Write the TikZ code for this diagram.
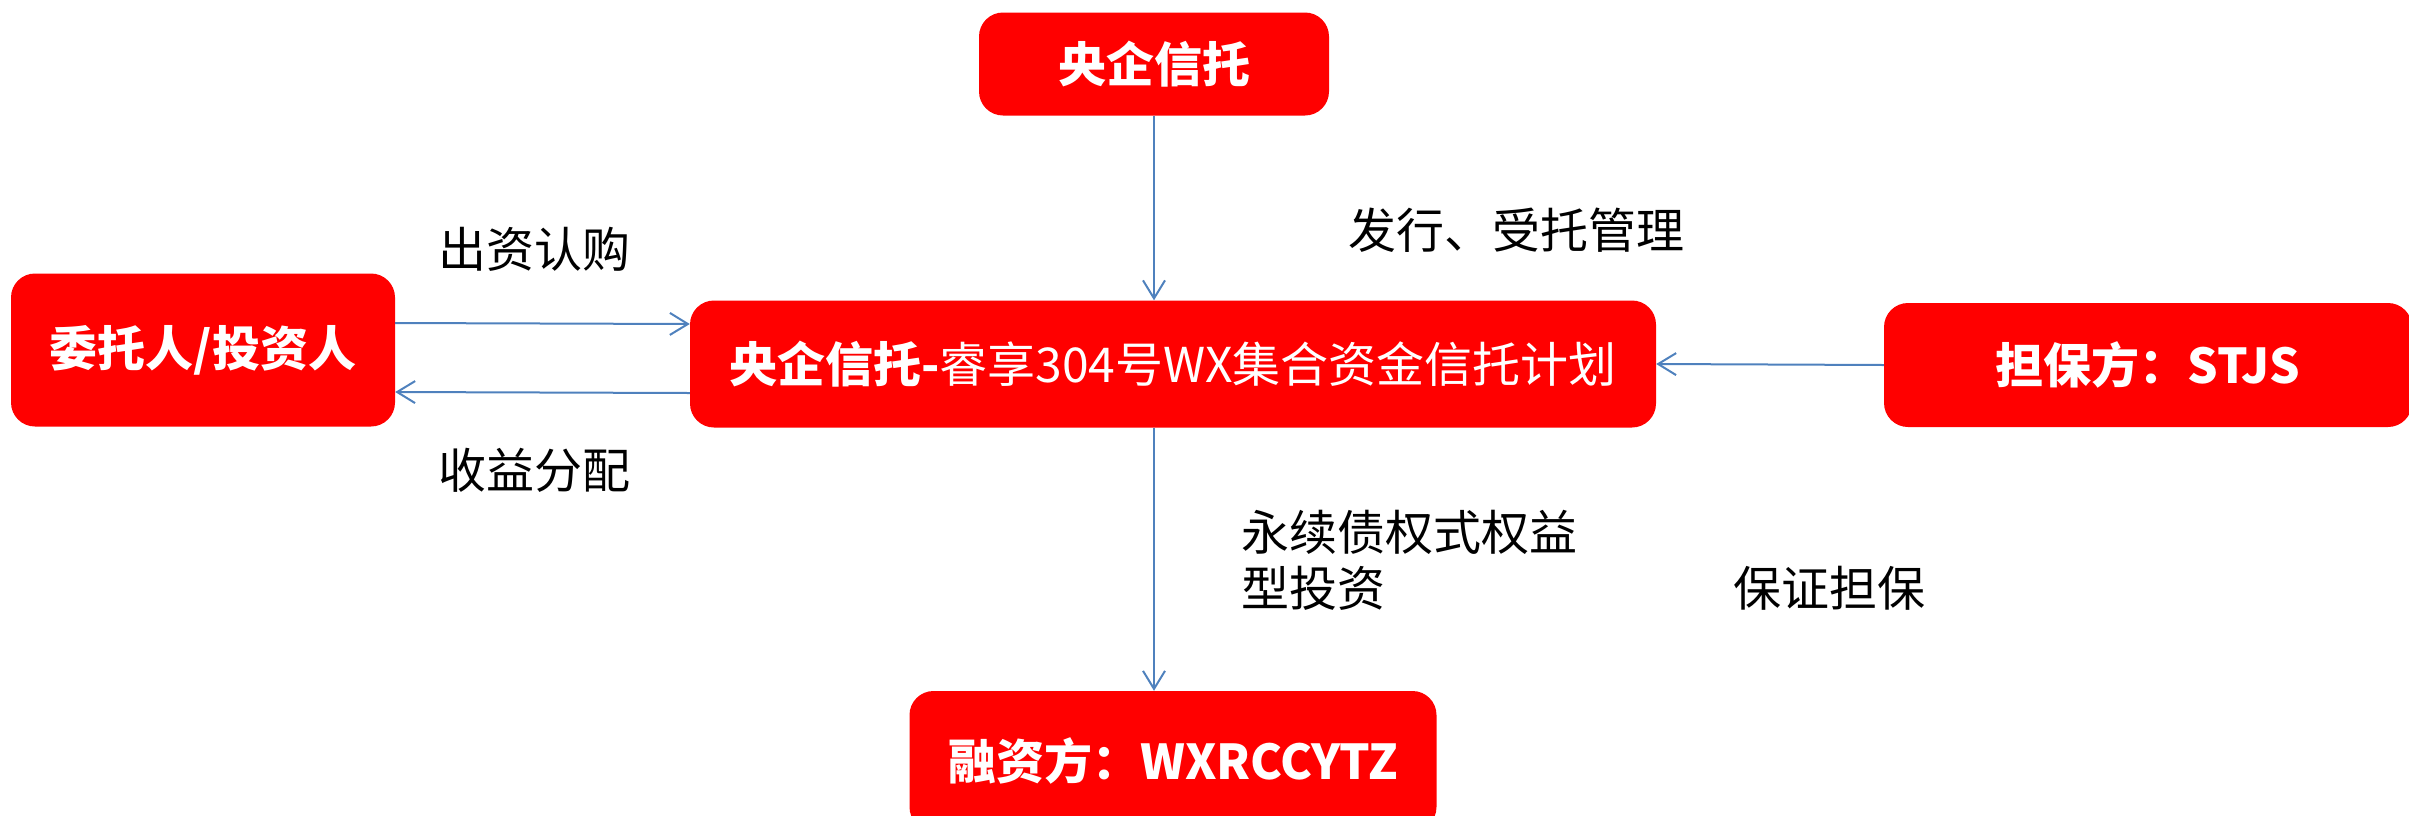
\documentclass[tikz,border=0pt]{standalone}
\usepackage{fontspec}
\newfontfamily\cjk{Noto Sans CJK SC}
\usetikzlibrary{arrows.meta}
\definecolor{flowblue}{RGB}{79,129,189}

\begin{document}
\begin{tikzpicture}[x=1pt,y=1pt,
  box/.style={fill=red,rounded corners=24pt,text=white,inner sep=0pt,
    font=\cjk\bfseries\fontsize{48}{56}\selectfont},
  note/.style={inner sep=0pt,font=\cjk\fontsize{48}{56}\selectfont},
  flow/.style={draw=flowblue,line width=2pt,-{Straight Barb[length=18pt,width=22pt,line width=2pt]}}]
  \useasboundingbox (0,0) rectangle (2409,-815);
  \clip (0,0) rectangle (2409,-815);
  \node[box,minimum width=350pt,minimum height=103pt] (trust) at (1154,-64) {央企信托};
  \node[box,minimum width=384pt,minimum height=153pt] (investor) at (203,-350) {委托人/投资人};
  \node[box,minimum width=966pt,minimum height=127pt] (plan) at (1173,-364)
    {央企信托-{\mdseries 睿享304号WX集合资金信托计划}};
  \node[box,minimum width=528pt,minimum height=124pt] (guarantor) at (2148,-365) {担保方：STJS};
  \node[box,minimum width=527pt,minimum height=140pt] (borrower) at (1173,-761) {融资方：WXRCCYTZ};
  \node[note] (subscribe) at (534,-249) {出资认购};
  \node[note] (payout) at (534,-470) {收益分配};
  \node[note] (issue) at (1516,-230) {发行、受托管理};
  \node[note,align=left,anchor=west] (invest) at (1241,-560) {永续债权式权益\\型投资};
  \node[note] (guarantee) at (1829,-588) {保证担保};
  \draw[flow] (trust.south) -- (trust.south |- plan.north);
  \draw[flow] ([yshift=27pt]investor.east) -- ([yshift=40pt]plan.west);
  \draw[flow] ([yshift=-29pt]plan.west) -- ([yshift=-42pt]investor.east);
  \draw[flow] (guarantor.west) -- (plan.east);
  \draw[flow] (plan.south -| trust.south) -- (borrower.north -| trust.south);
\end{tikzpicture}
\end{document}
